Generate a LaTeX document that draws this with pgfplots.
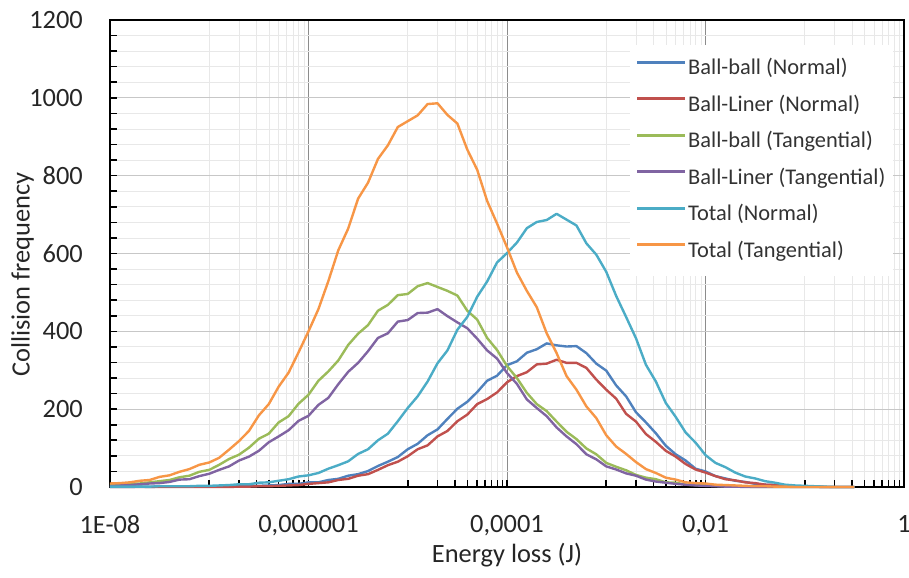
\documentclass[border=0pt]{standalone}
\usepackage{fontspec}
\setmainfont{Carlito}
\usepackage{pgfplots}
\usepackage{pgfplotstable}
\pgfplotsset{compat=1.18}
\definecolor{cBlue}{HTML}{4F81BD}
\definecolor{cRed}{HTML}{C0504D}
\definecolor{cGreen}{HTML}{9BBB59}
\definecolor{cPurple}{HTML}{8064A2}
\definecolor{cAqua}{HTML}{4BACC6}
\definecolor{cOrange}{HTML}{F79646}

% L = log10(energy loss); columns: Ball-ball N, Ball-Liner N, Ball-ball T, Ball-Liner T, Total N, Total T
\pgfplotstableread{
L bbn bln bbt blt totn tott
-8.0 0 0 5 3 1 9
-7.9 0 0 7 4 1 10
-7.8 0 0 8 5 1 12
-7.7 1 0 9 7 1 16
-7.6 0 0 12 9 1 18
-7.5 1 0 15 10 2 26
-7.4 1 0 18 13 2 30
-7.3 1 0 25 19 2 39
-7.2 1 0 29 20 2 46
-7.1 1 0 39 28 3 57
-7.0 1 0 44 34 3 63
-6.9 1 0 57 44 4 75
-6.8 2 0 72 53 5 96
-6.7 2 1 83 68 7 118
-6.6 3 1 101 78 7 144
-6.5 3 2 124 93 11 184
-6.4 4 2 137 115 12 213
-6.3 5 3 166 130 16 258
-6.2 8 4 182 146 20 294
-6.1 8 5 214 170 27 346
-6.0 12 8 237 183 30 400
-5.9 12 10 273 211 36 457
-5.8 18 12 297 229 47 529
-5.7 21 18 325 264 56 608
-5.6 29 21 365 296 66 664
-5.5 33 29 394 319 85 741
-5.4 41 33 416 349 97 782
-5.3 54 44 453 383 120 843
-5.2 65 56 468 395 137 878
-5.1 77 65 493 425 169 925
-5.0 97 79 496 429 203 940
-4.9 111 97 516 447 233 955
-4.8 133 107 524 448 271 984
-4.7 148 130 514 457 318 986
-4.6 175 144 504 439 351 956
-4.5 201 169 492 423 404 934
-4.4 219 186 453 408 437 867
-4.3 244 213 430 381 489 815
-4.2 273 226 383 351 528 735
-4.1 286 243 352 330 577 677
-4.0 313 269 311 293 601 616
-3.9 323 285 280 265 628 551
-3.8 345 295 242 225 665 504
-3.7 354 315 213 203 681 462
-3.6 369 317 195 182 686 395
-3.5 364 327 168 153 702 344
-3.4 361 319 142 130 687 285
-3.3 362 319 123 110 672 250
-3.2 344 306 99 84 626 207
-3.1 317 276 84 71 597 177
-3.0 299 250 62 53 553 133
-2.9 261 227 52 45 491 104
-2.8 233 188 43 35 437 85
-2.7 192 168 31 29 382 64
-2.6 166 136 24 19 314 46
-2.5 138 116 20 14 271 36
-2.4 106 93 12 11 216 24
-2.3 84 78 11 8 180 19
-2.2 68 59 6 6 140 12
-2.1 47 45 5 4 114 10
-2.0 40 37 4 3 82 9
-1.9 28 28 3 2 62 6
-1.8 22 20 2 1 51 5
-1.7 16 17 1 1 37 4
-1.6 13 12 1 0 27 3
-1.5 8 10 0 0 22 2
-1.4 6 6 0 0 15 2
-1.3 5 5 0 0 11 1
-1.2 3 3 0 0 6 1
-1.1 2 2 0 0 4 0
-1.0 1 1 0 0 3 0
-0.9 1 1 0 0 2 0
-0.8 0 0 0 0 1 0
-0.7 0 0 0 0 0 0
-0.6 0 0 0 0 0 0
-0.5 0 0 0 0 0 0
}\data

\begin{document}
\begin{tikzpicture}
\useasboundingbox (0,0) rectangle (909bp,578bp);
\begin{axis}[
  at={(110bp,91bp)}, anchor=south west,
  scale only axis, width=794bp, height=467bp,
  xmode=log, xmin=1e-8, xmax=1, ymin=0, ymax=1200,
  xtick={1e-8,1e-6,1e-4,1e-2,1},
  xticklabels={1E-08,{0,000001},{0,0001},{0,01},1},
  minor xtick={1e-7,2e-7,3e-7,4e-7,5e-7,6e-7,7e-7,8e-7,9e-7,
               1e-5,2e-5,3e-5,4e-5,5e-5,6e-5,7e-5,8e-5,9e-5,
               1e-3,2e-3,3e-3,4e-3,5e-3,6e-3,7e-3,8e-3,9e-3,
               1e-1,2e-1,3e-1,4e-1,5e-1,6e-1,7e-1,8e-1,9e-1},
  ytick={0,200,...,1200}, minor y tick num=4,
  grid=both,
  major x grid style={color=black!45, line width=0.9bp},
  major y grid style={color=black!22, line width=0.9bp},
  minor grid style={color=black!9, line width=0.8bp},
  axis line style={black, line width=1.6bp},
  tick style={black, line width=1.6bp},
  major tick length=7bp, minor tick length=7bp,
  tick align=inside, tick pos=left,
  /pgf/number format/assume math mode=true,
  /pgf/number format/1000 sep={},
  ticklabel style={font=\fontsize{26.5}{30}\selectfont, color=black!85},
  yticklabel style={inner sep=0pt, anchor=east, xshift=-27bp},
  xticklabel style={inner sep=0pt, anchor=north, yshift=-28bp},
  xlabel={Energy loss (J)},
  ylabel={Collision frequency},
  xlabel style={at={(axis description cs:0.5,0)}, anchor=north, inner sep=0pt, yshift=-56bp, font=\fontsize{26.5}{30}\selectfont, color=black!85},
  ylabel style={at={(axis description cs:-0.0957,0.455)}, anchor=south, inner sep=0pt, font=\fontsize{26.5}{30}\selectfont, color=black!85},
  legend style={at={(axis description cs:0.6543,0.947)}, anchor=north west, draw=none, fill=white,
    inner sep=6bp, row sep=0pt, font=\fontsize{22.5}{27}\selectfont, text=black!80,
    nodes={inner xsep=1.5bp, inner ysep=0bp, text height=16bp, text depth=5bp, minimum height=36.5bp}},
  legend cell align=left,
  legend image code/.code={\draw[#1, line width=3bp] (0bp,7bp) -- (48bp,7bp);},
  clip=false,
  every axis plot/.append style={line width=2.4bp, line join=round},
]
\addplot[cBlue] table[x expr={10^(\thisrow{L})}, y=bbn] {\data};
\addlegendentry{Ball-ball (Normal)}
\addplot[cRed] table[x expr={10^(\thisrow{L})}, y=bln] {\data};
\addlegendentry{Ball-Liner (Normal)}
\addplot[cGreen] table[x expr={10^(\thisrow{L})}, y=bbt] {\data};
\addlegendentry{Ball-ball (Tangential)}
\addplot[cPurple] table[x expr={10^(\thisrow{L})}, y=blt] {\data};
\addlegendentry{Ball-Liner (Tangential)}
\addplot[cAqua] table[x expr={10^(\thisrow{L})}, y=totn] {\data};
\addlegendentry{Total (Normal)}
\addplot[cOrange] table[x expr={10^(\thisrow{L})}, y=tott] {\data};
\addlegendentry{Total (Tangential)}
\end{axis}
\end{tikzpicture}
\end{document}
